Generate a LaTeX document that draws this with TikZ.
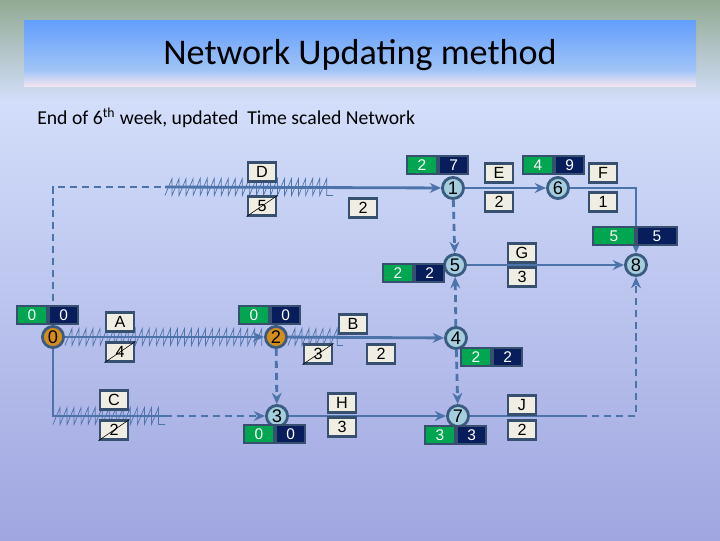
\documentclass[tikz,border=0pt]{standalone}
\usepackage{fontspec}
\setmainfont{Carlito}
\newfontfamily\boxfont{Liberation Sans}
\usetikzlibrary{positioning,arrows.meta,decorations.pathmorphing}
\definecolor{bgtop}{RGB}{146,170,146}
\definecolor{bglight}{RGB}{210,222,250}
\definecolor{bgmid}{RGB}{196,206,244}
\definecolor{bgbot}{RGB}{160,166,224}
\definecolor{bannertop}{RGB}{98,158,252}
\definecolor{bannermid}{RGB}{160,196,246}
\definecolor{bannerbot}{RGB}{242,228,240}
\definecolor{linkblue}{RGB}{76,116,170}
\definecolor{ringblue}{RGB}{58,92,128}
\definecolor{eventfill}{RGB}{164,206,222}
\definecolor{critfill}{RGB}{214,142,26}
\definecolor{estgreen}{RGB}{0,166,80}
\definecolor{lstnavy}{RGB}{8,30,92}
\definecolor{boxedge}{RGB}{56,80,112}
\definecolor{boxfill}{RGB}{240,238,226}
\tikzset{
  event/.style={circle, draw=ringblue, line width=2pt, fill=eventfill, minimum size=15pt,
    inner sep=0pt, font=\boxfont\fontsize{13}{13}\selectfont},
  critical/.style={event, fill=critfill},
  early/.style={draw=boxedge, line width=1.5pt, fill=estgreen, text=white, minimum width=21pt,
    minimum height=13pt, inner sep=0pt, font=\boxfont\fontsize{11}{11}\selectfont},
  late/.style={early, fill=lstnavy},
  tag/.style={draw=boxedge, line width=2pt, fill=boxfill, minimum width=20pt,
    minimum height=13pt, inner sep=0pt, font=\boxfont\fontsize{11.5}{11.5}\selectfont},
  link/.style={draw=linkblue, line width=2pt, -{Stealth[length=8pt,width=7pt]}},
  dummy/.style={link, dash pattern=on 5pt off 3.5pt},
  done/.style={draw=linkblue, line width=0.5pt, decorate,
    decoration={saw, segment length=5pt, amplitude=12pt}}
}
\begin{document}
\begin{tikzpicture}[x=0.025cm,y=-0.025cm]
  \useasboundingbox (0,0) rectangle (720,540);
  \shade[top color=bgtop, bottom color=bglight] (0,0) rectangle (720,100);
  \shade[top color=bglight, middle color=bgmid, bottom color=bgbot] (0,100) rectangle (720,540);
  \shade[top color=bannertop, bottom color=bannermid] (24,20) rectangle (696,70);
  \shade[top color=bannermid, bottom color=bannerbot] (24,70) rectangle (696,86);
  \node[font=\fontsize{25.7}{26}\selectfont] (title) at (360,55) {Network Updating method};
  \node[anchor=west, inner sep=0pt, font=\fontsize{14}{16}\selectfont] (subtitle) at (37,118)
    {End of 6\textsuperscript{th} week, updated\ \ Time scaled Network};

  \node[critical] (0) at (53,337) {0};
  \node[event] (1) at (453,188) {1};
  \node[critical] (2) at (276,337) {2};
  \node[event] (3) at (277,416) {3};
  \node[event] (4) at (456,338) {4};
  \node[event] (5) at (455,265) {5};
  \node[event] (6) at (558,188) {6};
  \node[event] (7) at (458,416) {7};
  \node[event] (8) at (636,265) {8};

  \coordinate (d0) at (53,187);
  \coordinate (d1) at (165,187);
  \coordinate (d2) at (333,187);
  \coordinate (a1) at (262,337);
  \coordinate (b1) at (343,337);
  \coordinate (c0) at (53,416);
  \coordinate (c1) at (165,416);
  \coordinate (f0) at (636,188);
  \coordinate (j0) at (580,416);
  \coordinate (j1) at (636,416);

  \draw[dummy, -] (0) -- (d0) -- (d1);
  \draw[link] (d1) -- (1);
  \draw[done] ([yshift=-6pt]d1) -- ([yshift=-6pt]d2);
  \draw[link] (0) -- (2);
  \draw[done] ([yshift=-6pt]0.east) -- ([yshift=-6pt]a1);
  \draw[link] (2) -- (4);
  \draw[done] ([yshift=-6pt]2.east) -- ([yshift=-6pt]b1);
  \draw[link, -] (0) -- (c0) -- (c1);
  \draw[done] ([yshift=-6pt]c0) -- ([yshift=-6pt]c1);
  \draw[dummy] (c1) -- (3);
  \draw[link] (1) -- (6);
  \draw[link] (6) -- (f0) -- (8);
  \draw[dummy] (1) -- (5);
  \draw[dummy] (4) -- (5);
  \draw[link] (5) -- (8);
  \draw[dummy] (2) -- (3);
  \draw[dummy] (4) -- (7);
  \draw[link] (3) -- (7);
  \draw[link, -] (7) -- (j0);
  \draw[dummy] (j0) -- (j1) -- (8);

  \node[early] (e0) at (32,315) {0};
  \node[late, right=0pt of e0] (l0) {0};
  \node[early] (e1) at (422,165) {2};
  \node[late, right=0pt of e1] (l1) {7};
  \node[early] (e2) at (254,315) {0};
  \node[late, right=0pt of e2] (l2) {0};
  \node[early] (e3) at (259,434) {0};
  \node[late, right=0pt of e3] (l3) {0};
  \node[early] (e4) at (476,357) {2};
  \node[late, right=0pt of e4] (l4) {2};
  \node[early] (e5) at (398,273) {2};
  \node[late, right=0pt of e5] (l5) {2};
  \node[early] (e6) at (538,165) {4};
  \node[late, right=0pt of e6] (l6) {9};
  \node[early] (e7) at (440,435) {3};
  \node[late, right=0pt of e7] (l7) {3};
  \node[early, minimum width=30pt] (e8) at (614,236) {5};
  \node[late, minimum width=28pt, right=0pt of e8] (l8) {5};

  \node[tag] (tD) at (262,172) {D};
  \node[tag] (dD) at (262,206) {5};
  \node[tag] (fD) at (363,208) {2};
  \node[tag] (tE) at (499,173) {E};
  \node[tag] (dE) at (499,202) {2};
  \node[tag] (tF) at (603,173) {F};
  \node[tag] (dF) at (603,202) {1};
  \node[tag] (tG) at (522,253) {G};
  \node[tag] (dG) at (522,277) {3};
  \node[tag] (tJ) at (522,405) {J};
  \node[tag] (dJ) at (522,430) {2};
  \node[tag] (tA) at (120,322) {A};
  \node[tag] (dA) at (120,352) {4};
  \node[tag] (tC) at (114,400) {C};
  \node[tag] (dC) at (114,430) {2};
  \node[tag] (tB) at (353,324) {B};
  \node[tag] (dB) at (318,354) {3};
  \node[tag] (fB) at (381,354) {2};
  \node[tag] (tH) at (342,403) {H};
  \node[tag] (dH) at (342,427) {3};

  \draw[thin] (dD.south west) -- (dD.north east);
  \draw[thin] (dA.south west) -- (dA.north east);
  \draw[thin] (dC.south west) -- (dC.north east);
  \draw[thin] (dB.south west) -- (dB.north east);
\end{tikzpicture}
\end{document}
